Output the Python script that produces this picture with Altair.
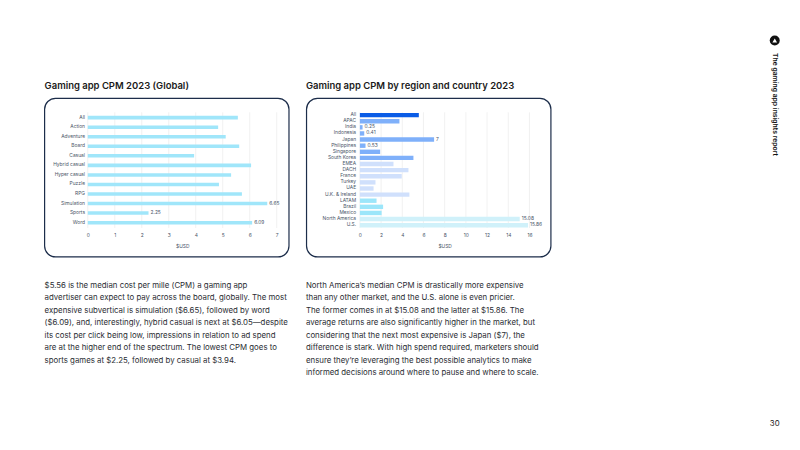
import altair as alt
import pandas as pd

OX, OY = 79.3, 103  # chart coords of panel 1 origin (page minus margin)

left_cats = ["All","Action","Adventure","Board","Casual","Hybrid casual","Hyper casual","Puzzle","RPG","Simulation","Sports","Word"]
left_vals = [5.56,4.83,5.11,5.61,3.94,6.05,5.31,4.86,5.71,6.65,2.25,6.09]
left_labels = ["","","","","","","","","","6.65","2.25","6.09"]

right_cats = ["All","APAC","India","Indonesia","Japan","Philippines","Singapore","South Korea","EMEA","DACH","France","Turkey","UAE","U.K. & Ireland","LATAM","Brazil","Mexico","North America","U.S."]
right_vals = [5.56,3.73,0.25,0.41,7,0.53,1.91,5.05,3.17,4.58,3.95,1.47,1.29,4.67,1.57,2.19,2.05,15.08,15.86]
right_labels = ["","","0.25","0.41","7","0.53","","","","","","","","","","","","15.08","15.86"]
right_colors = ["#0a5ce6"]+["#7fb0fa"]*7+["#d0e0fc"]*6+["#9ce6fa"]*3+["#d0f1fa"]*2

body_left = ["$5.56 is the median cost per mille (CPM) a gaming app",
"advertiser can expect to pay across the board, globally. The most",
"expensive subvertical is simulation ($6.65), followed by word",
"($6.09), and, interestingly, hybrid casual is next at $6.05—despite",
"its cost per click being low, impressions in relation to ad spend",
"are at the higher end of the spectrum. The lowest CPM goes to",
"sports games at $2.25, followed by casual at $3.94."]
body_right = ["North America’s median CPM is drastically more expensive",
"than any other market, and the U.S. alone is even pricier.",
"The former comes in at $15.08 and the latter at $15.86. The",
"average returns are also significantly higher in the market, but",
"considering that the next most expensive is Japan ($7), the",
"difference is stark. With high spend required, marketers should",
"ensure they’re leveraging the best possible analytics to make",
"informed decisions around where to pause and where to scale."]

FONT = "Inter"
INK = "#2a2d33"
AX = "#4a5568"
TICK = 4.9

def px(x): return x - 8 - OX
def py(y): return y - 8 - OY

def txt(s, x, y, size, **kw):
    return alt.Chart(pd.DataFrame({"t":[s]})).mark_text(font=FONT, fontSize=size, align=kw.pop("align","left"), baseline="middle", color=kw.pop("color",INK), **kw).encode(text="t:N", x=alt.value(px(x)), y=alt.value(py(y)))

def card(x1,x2,y1,y2):
    return alt.Chart(pd.DataFrame({"a":[0]})).mark_rect(fill="white", stroke="#1c2d4a", strokeWidth=1.2, cornerRadius=11).encode(
        x=alt.value(x1), x2=alt.value(x2), y=alt.value(y1), y2=alt.value(y2))

def panel(cats, vals, labels, colors, domain, ticks, size, outer, lp):
    df = pd.DataFrame({"c":cats,"v":vals,"l":labels,"col":colors})
    xs = alt.Scale(domain=domain, nice=False)
    ax = alt.Axis(values=ticks, format="d", grid=False, domain=False, ticks=False, zindex=1, labelFlush=False,
            labelFont=FONT, labelFontSize=TICK, labelColor=AX, labelPadding=5, titleFont=FONT, titleFontSize=TICK, titleColor=AX, titleFontWeight="normal", titlePadding=6)
    ya = alt.Y("c:N", sort=cats, scale=alt.Scale(paddingInner=1-size, paddingOuter=outer), title=None,
        axis=alt.Axis(grid=False, domain=False, ticks=False, zindex=1, labelFont=FONT, labelFontSize=TICK, labelColor=AX, labelPadding=lp))
    grid = alt.Chart(pd.DataFrame({"t":ticks})).mark_rule(color="#eeeeee", strokeWidth=0.8).encode(x=alt.X("t:Q", scale=xs, axis=ax, title="$USD"))
    bars = alt.Chart(df).mark_bar().encode(x=alt.X("v:Q", scale=xs, axis=ax, title="$USD"), y=ya, color=alt.Color("col:N", scale=None))
    lab = alt.Chart(df).mark_text(font=FONT, fontSize=TICK, color=AX, align="left", dx=2).encode(
        x=alt.X("v:Q", scale=xs, axis=ax, title="$USD"), y=alt.Y("c:N", sort=cats), text="l:N")
    return grid, bars, lab

W1, H1 = 189.4, 116
W2, H2 = 170, 116

g1, b1, l1 = panel(left_cats, left_vals, left_labels, ["#a0e6fa"]*12, [0,7], list(range(8)), 0.37, 0.375, 3.3)
g2, b2, l2 = panel(right_cats, right_vals, right_labels, right_colors, [0,16], list(range(0,17,2)), 0.72, 0.1, 4.3)

page = alt.Chart(pd.DataFrame({"a":[0]})).mark_rect(fill="white").encode(
    x=alt.value(-OX), x2=alt.value(784-OX), y=alt.value(-OY), y2=alt.value(434-OY))

BODY = 7.85
LEAD = 12.5
texts = [txt("Gaming app CPM 2023 (Global)",44,84.5,9.5,fontWeight=600,color="#1a1a1a"),
         txt("Gaming app CPM by region and country 2023",306,84.5,9.5,fontWeight=600,color="#1a1a1a")]
for i,s in enumerate(body_left):
    texts.append(txt(s,44,285+i*LEAD,BODY))
for i,s in enumerate(body_right):
    texts.append(txt(s,306,285+i*LEAD,BODY))
texts.append(txt("30",776,424,BODY,align="center",color="#1a1a1a"))
texts.append(alt.Chart(pd.DataFrame({"t":["The gaming app insights report"]})).mark_text(font=FONT,fontSize=6.85,fontWeight=600,angle=90,align="left",baseline="middle",color="#111111").encode(text="t:N",x=alt.value(px(776.5)),y=alt.value(py(51.5))))
texts.append(alt.Chart(pd.DataFrame({"a":[0]})).mark_point(filled=True,size=100,color="#111111",opacity=1).encode(x=alt.value(px(776)),y=alt.value(py(39))))
texts.append(alt.Chart(pd.DataFrame({"a":[0]})).mark_point(filled=True,shape="triangle-up",size=22,color="white",opacity=1).encode(x=alt.value(px(776)),y=alt.value(py(39))))

left = alt.layer(page, card(px(44),px(289),py(97),py(256)), *texts, g1, b1, l1).properties(width=W1,height=H1)
right = alt.layer(card(306-359.5,551-359.5,97-111,256-111), g2, b2, l2).properties(width=W2,height=H2)

chart = alt.hconcat(left, right, spacing=359.5-87.3-W1, bounds="flush", padding=0).resolve_scale(color="independent").configure_view(stroke=None).configure(background="white")
chart.save("out.html", embed_options={"renderer":"svg","actions":False})
